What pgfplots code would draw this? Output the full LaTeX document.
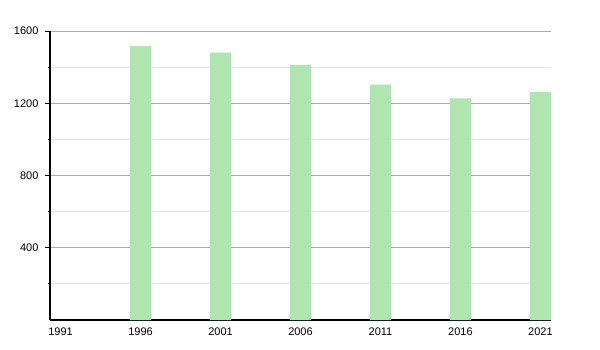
\documentclass[border=0pt]{standalone}
\usepackage{fontspec}
\setmainfont{Liberation Sans}
\usepackage{pgfplots}
\pgfplotsset{compat=1.18}
\definecolor{barg}{HTML}{B0E4B0}
\definecolor{majg}{HTML}{ABABAB}
\definecolor{ming}{HTML}{E6E6E6}
\begin{document}
\fontsize{8.25pt}{10pt}\selectfont
\begin{tikzpicture}
\path[use as bounding box] (-37.5pt,-22.5pt) rectangle (412.5pt,240pt);
\begin{axis}[
  at={(0,0)}, anchor=south west,
  scale only axis, width=375.75pt, height=216.75pt,
  xmin=1990.34, xmax=2021.66, ymin=0, ymax=1600,
  axis x line=bottom, axis y line=left,
  axis line style={-, black, line width=0.9pt},
  xtick={1991,1996,2001,2006,2011,2016,2021},
  ytick={400,800,1200,1600},
  minor ytick={200,600,1000,1400},
  ymajorgrids, yminorgrids,
  major grid style={majg, line width=0.75pt},
  minor grid style={ming, line width=0.75pt},
  major x tick style={draw=none},
  major y tick style={black, line width=0.75pt},
  minor y tick style={black, line width=0.75pt},
  tick align=outside,
  major tick length=3.75pt, minor tick length=1.8pt,
  /pgf/number format/assume math mode=true,
  /pgf/number format/1000 sep={},
  ticklabel style={font=\fontsize{8.25pt}{10pt}\selectfont},
  xticklabel style={yshift=1pt},
  yticklabel style={xshift=-2pt},
  ybar, bar width=15.75pt,
]
\addplot[fill=barg, draw=none] coordinates {
 (1996,1517) (2001,1480) (2006,1413) (2011,1303) (2016,1227) (2021,1262)
};
\end{axis}
\end{tikzpicture}
\end{document}
